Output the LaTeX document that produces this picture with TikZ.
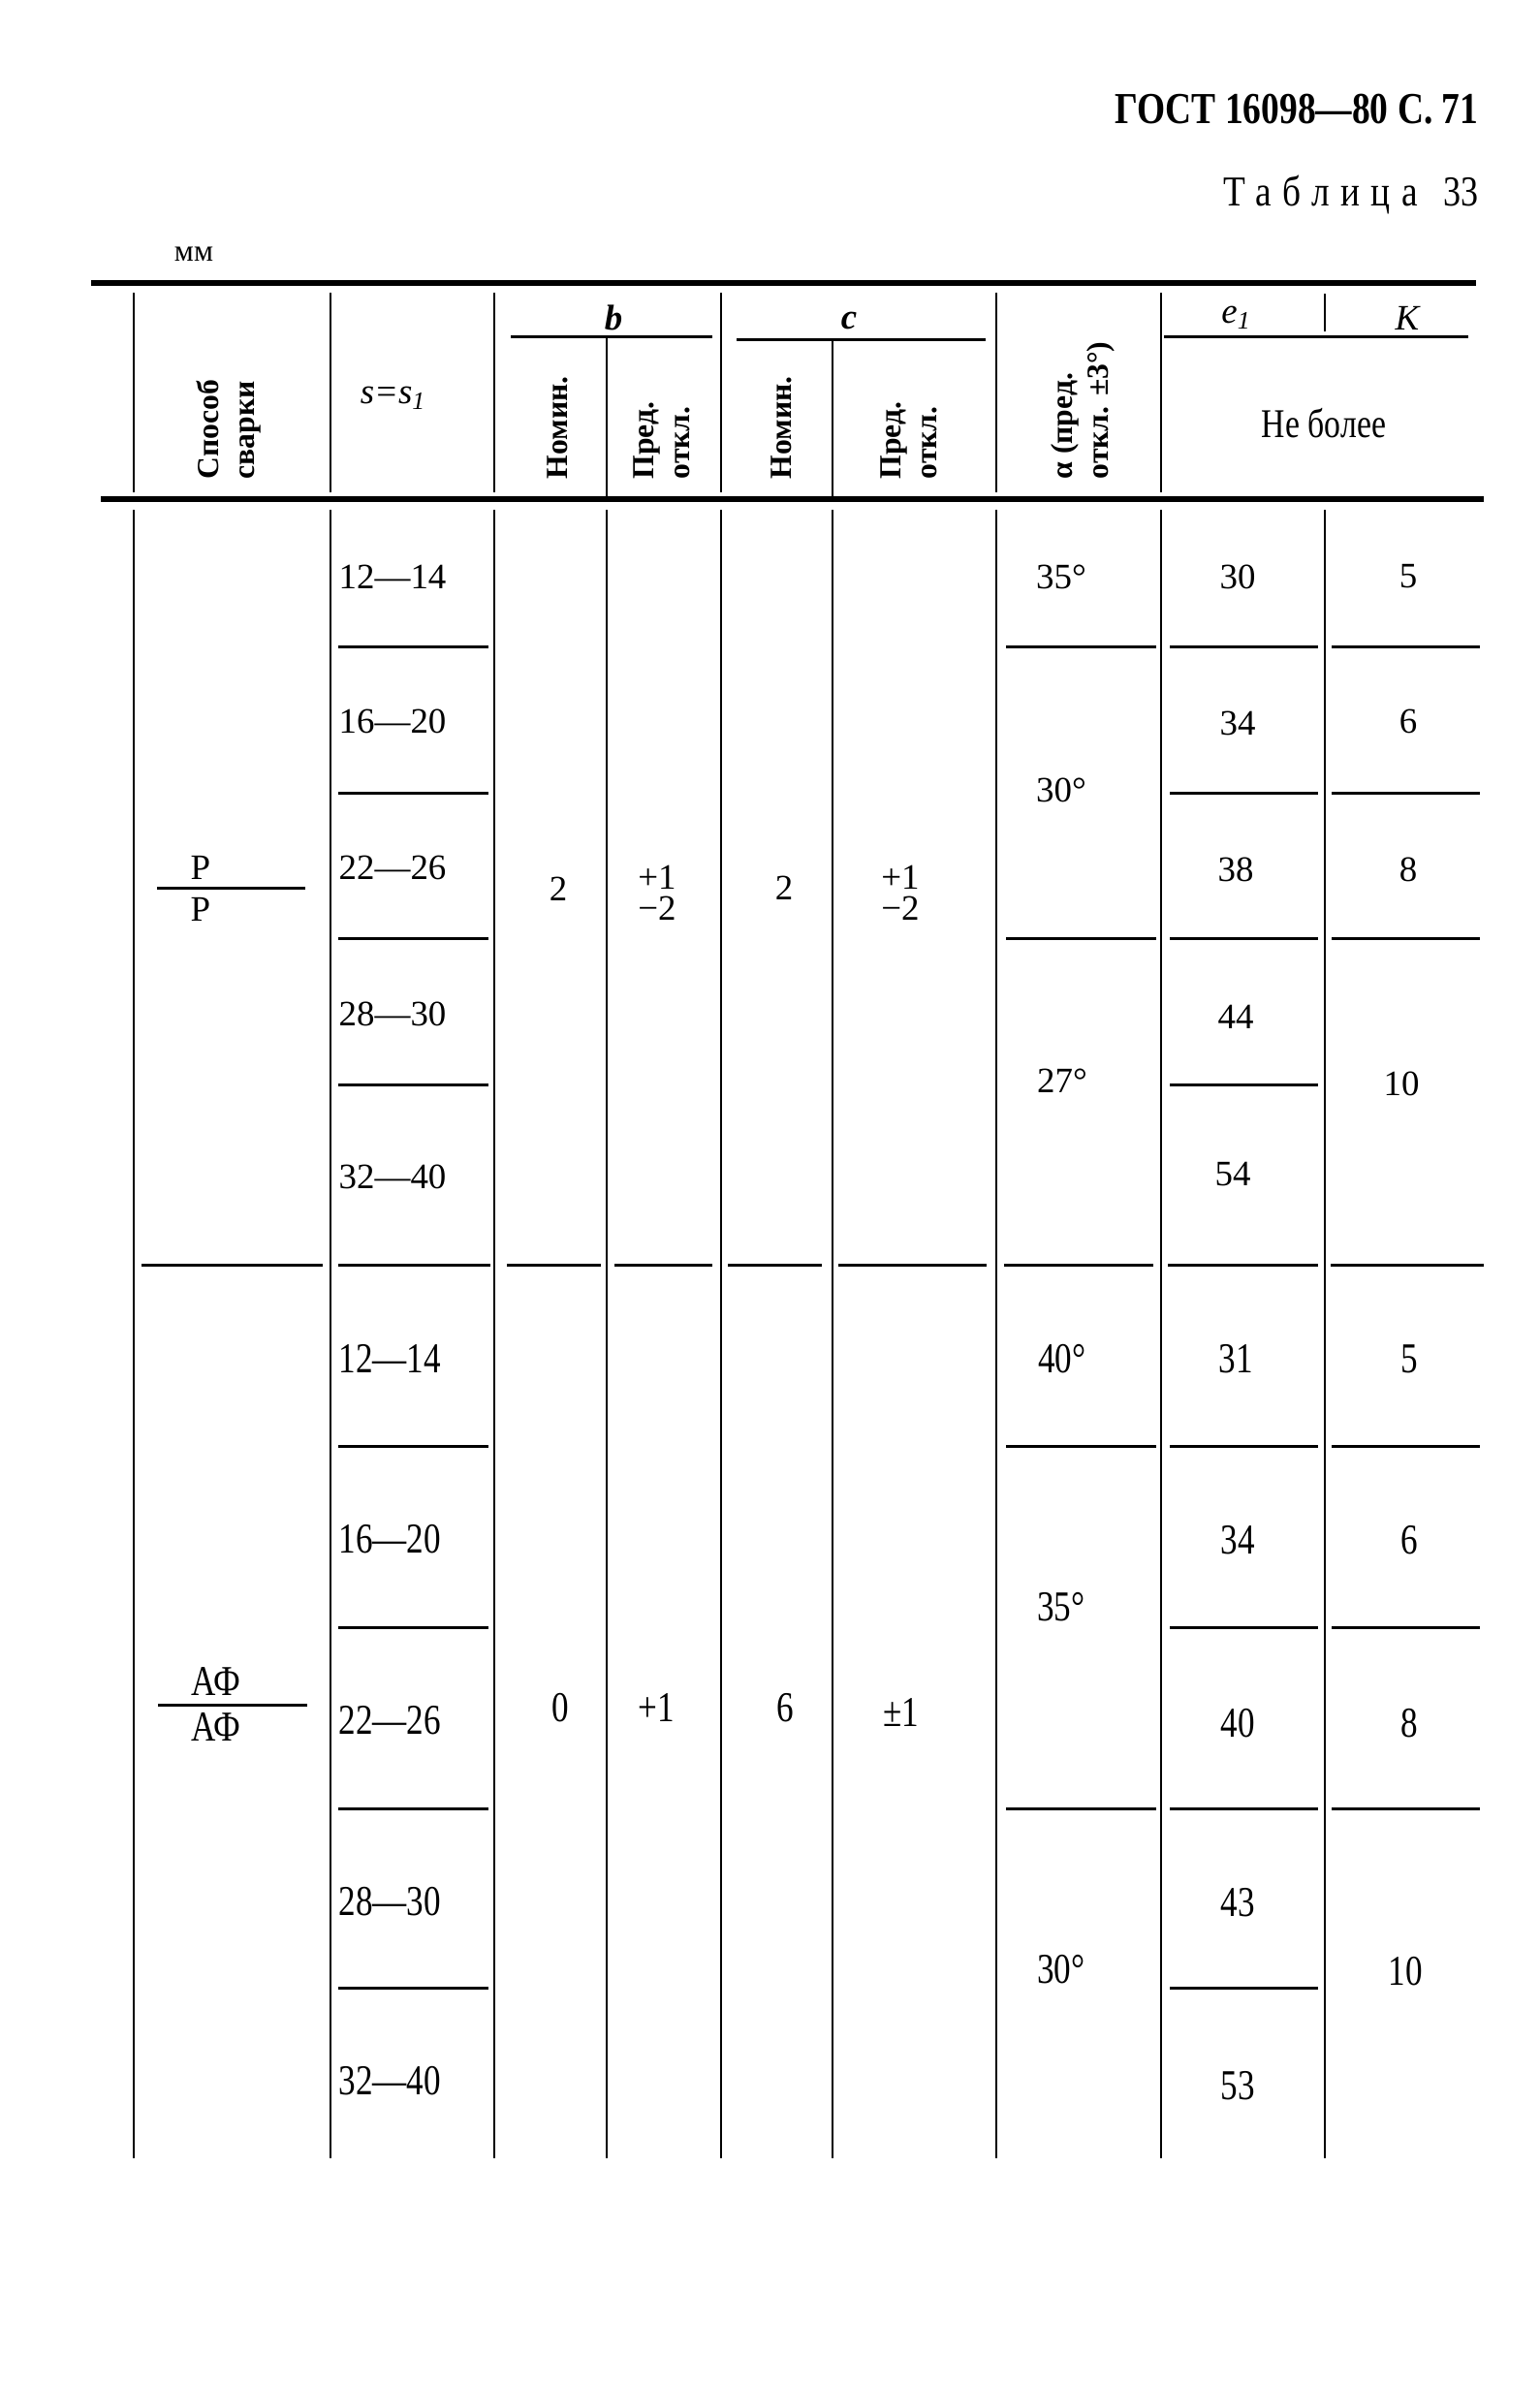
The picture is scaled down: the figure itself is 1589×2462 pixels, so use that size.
\documentclass[tikz,border=0pt]{standalone}
\usepackage{fontspec}
\setmainfont{Liberation Serif}
\newfontfamily\narrowfont[FakeStretch=0.8]{Liberation Serif}
\newfontfamily\gostfont[FakeStretch=0.82]{Liberation Serif}
\newfontfamily\spacedfont[FakeStretch=0.85,LetterSpace=26]{Liberation Serif}
\begin{document}
\begin{tikzpicture}[x=0.1mm, y=-0.1mm,
            num/.style={inner sep=0pt, font=\fontsize{10.5}{12}\selectfont},
            numn/.style={inner sep=0pt, font=\narrowfont\fontsize{12.5}{14}\selectfont},
            rng/.style={num, anchor=west},
            rngn/.style={numn, anchor=west},
            vhead/.style={rotate=90, anchor=west, inner sep=0pt, align=left, font=\bfseries\fontsize{9}{10.5}\selectfont},
            ital/.style={inner sep=0pt, font=\itshape\fontsize{10.5}{12}\selectfont},
            rule/.style={line width=0.85pt},
            vline/.style={line width=0.8pt},
            thickrule/.style={line width=1.5pt}]
            \useasboundingbox (0,0) rectangle (1589,2462);

            \node[inner sep=0pt, anchor=east, font=\gostfont\bfseries\fontsize{13}{15}\selectfont] (gost) at (1526,113) {ГОСТ 16098—80 С. 71};
            \node[inner sep=0pt, anchor=east, font=\gostfont\fontsize{12.5}{14}\selectfont] (tabNo) at (1526,201) {{\spacedfont\fontsize{12.5}{14}\selectfont Таблица}\hspace{0.6em}33};
            \node[inner sep=0pt, font=\fontsize{9}{10}\selectfont] (mmUnit) at (200,262) {мм};

            \draw[thickrule] (94,292) -- (1523,292);
            \draw[thickrule] (104,515) -- (1531,515);

            \foreach \cx in {138,341,510,744,1028,1198}
                \draw[vline] (\cx,302) -- (\cx,508);
            \draw[vline] (626,347) -- (626,513);
            \draw[vline] (859,352) -- (859,515);
            \draw[vline] (1367,303) -- (1367,342);
            \draw[rule] (527,347) -- (735,347);
            \draw[rule] (760,350) -- (1017,350);
            \draw[rule] (1201,347) -- (1515,347);

            \node[vhead] (hSpos) at (236,495) {Способ\\сварки};
            \node[ital] (hS) at (406,411) {s=s\textsubscript{1}};
            \node[ital, font=\bfseries\itshape\fontsize{10.5}{12}\selectfont] (hB) at (633,328) {b};
            \node[ital, font=\bfseries\itshape\fontsize{10.5}{12}\selectfont] (hC) at (876,331) {c};
            \node[vhead] (hBnom) at (575,495) {Номин.};
            \node[vhead] (hBdev) at (683,495) {Пред.\\откл.};
            \node[vhead] (hCnom) at (806,495) {Номин.};
            \node[vhead] (hCdev) at (938,495) {Пред.\\откл.};
            \node[vhead] (hAlpha) at (1117,495) {α (пред.\\откл. ±3°)};
            \node[ital] (hE) at (1276,328) {e\textsubscript{1}};
            \node[ital] (hK) at (1452,328) {K};
            \node[inner sep=0pt, font=\narrowfont\fontsize{12}{14}\selectfont] (hMax) at (1366,437) {Не более};

            \foreach \cx in {138,341,510,626,744,859,1028,1198,1367}
                \draw[vline] (\cx,526) -- (\cx,2227);

            \foreach \ry in {667,818,968,1119,1492,1679,1866,2051}
                \draw[rule] (349,\ry) -- (504,\ry);
            \foreach \ry in {667,968,1492,1866}
                \draw[rule] (1038,\ry) -- (1193,\ry);
            \foreach \ry in {667,818,968,1119,1492,1679,1866,2051}
                \draw[rule] (1207,\ry) -- (1360,\ry);
            \foreach \ry in {667,818,968,1492,1679,1866}
                \draw[rule] (1374,\ry) -- (1527,\ry);
            \foreach \xa/\xb in {146/333,349/506,523/620,634/735,751/848,865/1018,1036/1190,1205/1360,1373/1531}
                \draw[rule] (\xa,1305) -- (\xb,1305);

            \node[num] (pTop) at (207,895) {Р};
            \node[num] (pBot) at (207,938) {Р};
            \draw[rule] (162,916) -- (315,916);

            \node[rng] (sA1) at (349,595) {12—14};
            \node[rng] (sA2) at (349,744) {16—20};
            \node[rng] (sA3) at (349,895) {22—26};
            \node[rng] (sA4) at (349,1046) {28—30};
            \node[rng] (sA5) at (349,1214) {32—40};

            \node[num] (bA) at (576,917) {2};
            \node[num, align=center] (bdA) at (678,921) {+1\\[-3pt]−2};
            \node[num] (cA) at (809,916) {2};
            \node[num, align=center] (cdA) at (929,921) {+1\\[-3pt]−2};

            \node[num] (aA1) at (1095,595) {35°};
            \node[num] (aA2) at (1095,815) {30°};
            \node[num] (aA3) at (1096,1115) {27°};

            \node[num] (eA1) at (1277,595) {30};
            \node[num] (eA2) at (1277,746) {34};
            \node[num] (eA3) at (1275,897) {38};
            \node[num] (eA4) at (1275,1049) {44};
            \node[num] (eA5) at (1272,1212) {54};

            \node[num] (kA1) at (1453,595) {5};
            \node[num] (kA2) at (1453,744) {6};
            \node[num] (kA3) at (1453,897) {8};
            \node[num] (kA4) at (1446,1118) {10};

            \node[numn] (afTop) at (223,1735) {АФ};
            \node[numn] (afBot) at (223,1782) {АФ};
            \draw[rule] (163,1759) -- (317,1759);

            \node[rngn] (sB1) at (349,1402) {12—14};
            \node[rngn] (sB2) at (349,1588) {16—20};
            \node[rngn] (sB3) at (349,1775) {22—26};
            \node[rngn] (sB4) at (349,1962) {28—30};
            \node[rngn] (sB5) at (349,2147) {32—40};

            \node[numn] (bB) at (578,1762) {0};
            \node[numn] (bdB) at (677,1762) {+1};
            \node[numn] (cB) at (810,1762) {6};
            \node[numn] (cdB) at (930,1767) {±1};

            \node[numn] (aB1) at (1096,1402) {40°};
            \node[numn] (aB2) at (1095,1658) {35°};
            \node[numn] (aB3) at (1095,2032) {30°};

            \node[numn] (eB1) at (1275,1402) {31};
            \node[numn] (eB2) at (1277,1589) {34};
            \node[numn] (eB3) at (1277,1778) {40};
            \node[numn] (eB4) at (1277,1963) {43};
            \node[numn] (eB5) at (1277,2152) {53};

            \node[numn] (kB1) at (1454,1402) {5};
            \node[numn] (kB2) at (1454,1589) {6};
            \node[numn] (kB3) at (1454,1778) {8};
            \node[numn] (kB4) at (1450,2034) {10};
        \end{tikzpicture}
\end{document}
